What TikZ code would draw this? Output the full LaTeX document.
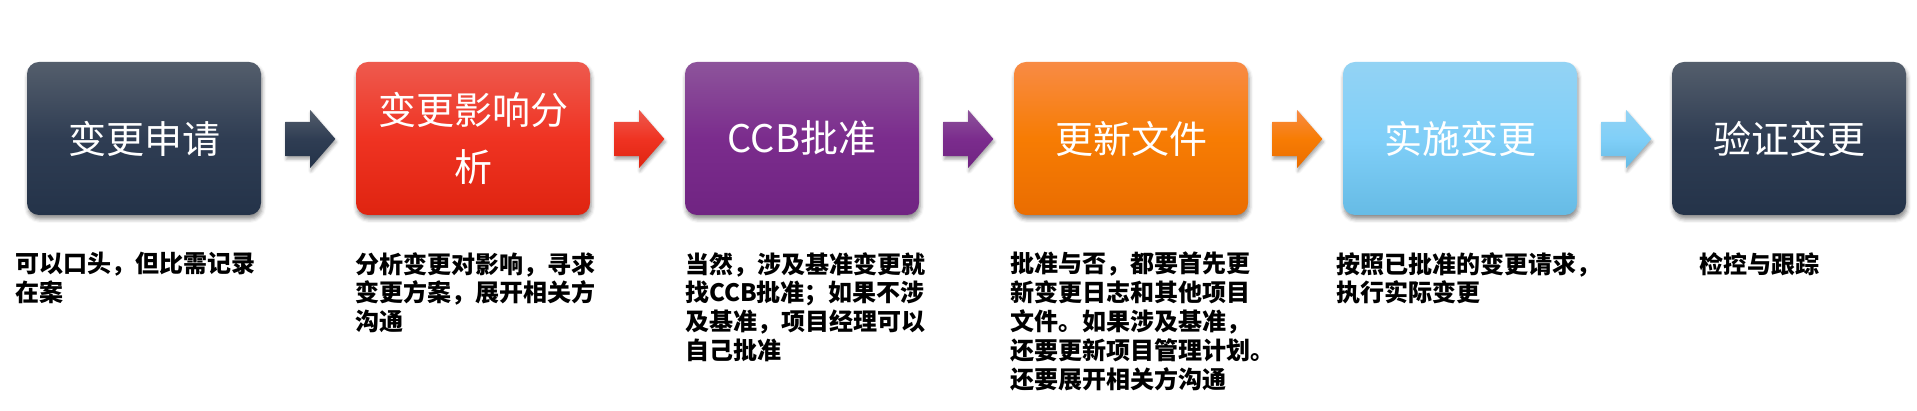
\documentclass[tikz,border=0pt]{standalone}
\usepackage{fontspec}
\newfontfamily\cjk{Noto Sans CJK SC}
\usetikzlibrary{shapes.arrows,shadows.blur,calc}
\definecolor{navyT}{HTML}{545E6C}\definecolor{navyM}{HTML}{2F3D53}\definecolor{navyB}{HTML}{243349}
\definecolor{redT}{HTML}{EE5A4E}\definecolor{redM}{HTML}{EF3322}\definecolor{redB}{HTML}{DF2410}
\definecolor{purT}{HTML}{8D549B}\definecolor{purM}{HTML}{7B2C8D}\definecolor{purB}{HTML}{702482}
\definecolor{orgT}{HTML}{F88B45}\definecolor{orgM}{HTML}{F77C03}\definecolor{orgB}{HTML}{EA6D01}
\definecolor{bluT}{HTML}{93D3F4}\definecolor{bluM}{HTML}{80CFF8}\definecolor{bluB}{HTML}{66BBE5}
\begin{document}
\begin{tikzpicture}[x=1pt,y=1pt,
  box/.style={rounded corners=12pt, minimum width=234pt, minimum height=153pt, inner sep=0pt,
    text=white, font=\cjk\fontsize{38}{57}\selectfont, align=center,
    blur shadow={shadow xshift=1pt, shadow yshift=-4pt, shadow blur radius=4pt, shadow opacity=45}},
  arr/.style={single arrow, single arrow head extend=12pt, single arrow tip angle=98,
    minimum height=50pt, inner xsep=0pt, inner ysep=17pt, anchor=tail,
    blur shadow={shadow xshift=1pt, shadow yshift=-3pt, shadow blur radius=3pt, shadow opacity=35}},
  navy/.style={top color=navyT, bottom color=navyB, middle color=navyM},
  redg/.style={top color=redT, bottom color=redB, middle color=redM},
  purg/.style={top color=purT, bottom color=purB, middle color=purM},
  orgg/.style={top color=orgT, bottom color=orgB, middle color=orgM},
  blug/.style={top color=bluT, bottom color=bluB, middle color=bluM},
  note/.style={anchor=north west, align=left, inner sep=0pt,
    font=\cjk\bfseries\fontsize{24}{28.8}\selectfont}
]
\useasboundingbox (0,0) rectangle (1917,411);
\node[box,navy] (b1) at (144,272.5) {变更申请};
\node[box,redg] (b2) at (473,272.5) {变更影响分\\析};
\node[box,purg] (b3) at (802,272.5) {CCB批准};
\node[box,orgg] (b4) at (1131,272.5) {更新文件};
\node[box,blug] (b5) at (1460,272.5) {实施变更};
\node[box,navy] (b6) at (1789,272.5) {验证变更};

\node[arr,navy] (a1) at ($(b1.east)+(24,-0.5)$) {};
\node[arr,redg] (a2) at ($(b2.east)+(24,-0.5)$) {};
\node[arr,purg] (a3) at ($(b3.east)+(24,-0.5)$) {};
\node[arr,orgg] (a4) at ($(b4.east)+(24,-0.5)$) {};
\node[arr,blug] (a5) at ($(b5.east)+(24,-0.5)$) {};

\node[note] (n1) at (15,159) {可以口头，但比需记录\\在案};
\node[note] (n2) at (355,159) {分析变更对影响，寻求\\变更方案，展开相关方\\沟通};
\node[note] (n3) at (685,159) {当然，涉及基准变更就\\找CCB批准；如果不涉\\及基准，项目经理可以\\自己批准};
\node[note] (n4) at (1010,159) {批准与否，都要首先更\\新变更日志和其他项目\\文件。如果涉及基准，\\还要更新项目管理计划。\\还要展开相关方沟通};
\node[note] (n5) at (1336,159) {按照已批准的变更请求，\\执行实际变更};
\node[note] (n6) at (1699,159) {检控与跟踪};
\end{tikzpicture}
\end{document}
